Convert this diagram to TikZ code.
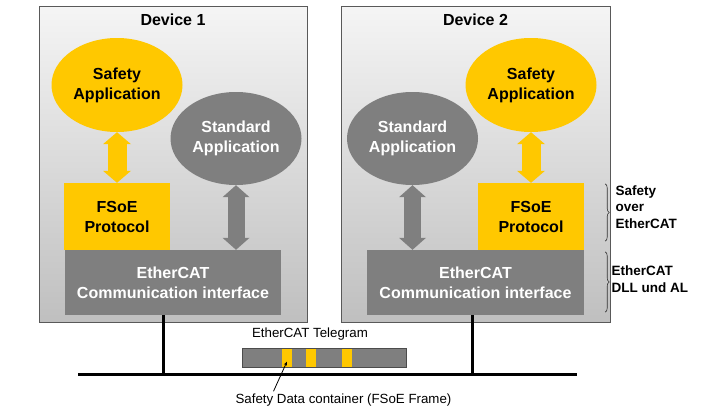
\documentclass[tikz,border=0pt]{standalone}
\usepackage{fontspec}
\setmainfont{Liberation Sans}
\usetikzlibrary{shapes.geometric,arrows.meta,decorations.pathreplacing}
\definecolor{fsoeyellow}{HTML}{FFC800}
\definecolor{ecgray}{HTML}{7F7F7F}
\definecolor{framegray}{HTML}{595959}
\begin{document}
\begin{tikzpicture}[x=1pt, y=-1pt,
device node/.style={rectangle,draw=framegray,line width=1pt,top color=gray!8,bottom color=gray!50,minimum width=268pt,minimum height=316pt,inner sep=0pt},
safe node/.style={ellipse,fill=fsoeyellow,minimum width=131pt,minimum height=94pt,inner sep=0pt,align=center},
std node/.style={ellipse,fill=ecgray,text=white,minimum width=131pt,minimum height=93pt,inner sep=0pt,align=center},
fsoe node/.style={rectangle,fill=fsoeyellow,minimum width=106pt,minimum height=67pt,inner sep=0pt,align=center},
eth node/.style={rectangle,fill=ecgray,text=white,minimum width=216pt,minimum height=65pt,inner sep=0pt,align=center},
yellow link/.style={{Triangle[width=28pt,length=12pt,line width=0pt]}-{Triangle[width=28pt,length=12pt,line width=0pt]},line width=19pt,draw=fsoeyellow},
gray link/.style={{Triangle[width=27pt,length=12pt,line width=0pt]}-{Triangle[width=27pt,length=12pt,line width=0pt]},line width=17pt,draw=ecgray},
bus/.style={line width=3pt,black},
side brace/.style={decorate,decoration={brace,amplitude=4pt},line width=0.6pt,black!80}]
\useasboundingbox (0,0) rectangle (720,415);
\node[device node] (dev1) at (173,164) {};
\node[device node,minimum width=269pt] (dev2) at (475.5,164) {};
\begin{scope}[every node/.style={font=\fontsize{16}{20}\selectfont\bfseries}]
\node (title1) at (173,20) {Device 1};
\node (title2) at (475.5,20) {Device 2};
\node[safe node] (safe1) at (117,85) {Safety\\Application};
\node[std node] (std1) at (236,138.5) {Standard\\Application};
\node[fsoe node] (fsoe1) at (117,216.5) {FSoE\\Protocol};
\node[eth node] (eth1) at (173,282.5) {EtherCAT\\Communication interface};
\node[safe node] (safe2) at (531,85) {Safety\\Application};
\node[std node] (std2) at (412.5,138.5) {Standard\\Application};
\node[fsoe node] (fsoe2) at (531,216.5) {FSoE\\Protocol};
\node[eth node,minimum width=217pt] (eth2) at (475.5,282.5) {EtherCAT\\Communication interface};
\end{scope}
\begin{scope}
\draw[yellow link] (safe1) -- (fsoe1);
\draw[gray link] (std1.south) -- (std1.south |- eth1.north);
\draw[yellow link] (safe2) -- (fsoe2);
\draw[gray link] (std2.south) -- (std2.south |- eth2.north);
\end{scope}
\begin{scope}[every node/.style={font=\fontsize{13.5}{16.5}\selectfont\bfseries,align=left,anchor=west}]
\node (sover) at (612,207) {Safety\\over\\EtherCAT};
\node (dllal) at (608,279) {EtherCAT\\DLL und AL};
\end{scope}
\draw[side brace] ([xshift=21pt,yshift=-1pt]fsoe2.north east) -- ([xshift=21pt,yshift=9pt]fsoe2.south east);
\draw[side brace] ([xshift=21pt,yshift=-2pt]eth2.north east) -- ([xshift=21pt,yshift=3pt]eth2.south east);
% bus with the two taps
\coordinate (busL) at (78,374);
\coordinate (busR) at (577,374);
\coordinate (tap1) at (163,374);
\coordinate (tap2) at (472,374);
\draw[bus] (busL) -- (busR);
\draw[bus] (tap1 |- eth1.south) -- (tap1);
\draw[bus] (tap2 |- eth2.south) -- (tap2);
\begin{scope}[every node/.style={font=\fontsize{13.3}{16}\selectfont}]
\node (tglabel) at (310,334) {EtherCAT Telegram};
\node (framelbl) at (343.5,400) {Safety Data container (FSoE Frame)};
\end{scope}
\node[rectangle,fill=ecgray,draw=black!70,line width=0.6pt,minimum width=164pt,minimum height=19pt,inner sep=0pt] (telegram) at (324,357.5) {};
\foreach \sx/\nm in {287/stripe1,311/stripe2,346.5/stripe3}
  \node[rectangle,fill=fsoeyellow,minimum width=10pt,minimum height=18pt,inner sep=0pt] (\nm) at (\sx,357.5) {};
\draw[-{Stealth[length=4pt]},line width=0.8pt] ([xshift=-70pt,yshift=-1pt]framelbl.north) -- ([yshift=-4pt]stripe1.center);
\end{tikzpicture}
\end{document}
